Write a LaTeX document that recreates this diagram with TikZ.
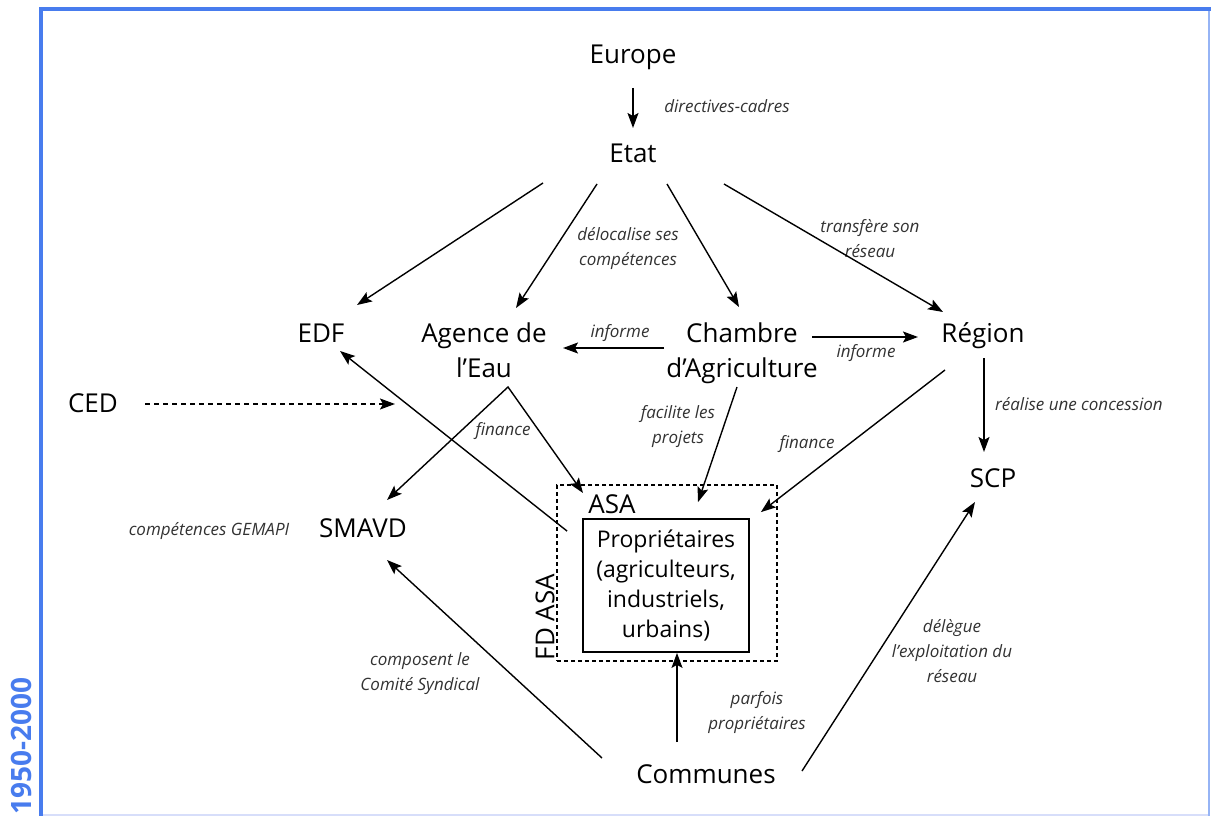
\documentclass[tikz,border=0pt]{standalone}
\usepackage{fontspec}
\setmainfont{Open Sans}
\usetikzlibrary{arrows.meta,calc}
\definecolor{frameblue}{RGB}{72,124,238}
\definecolor{framelight}{RGB}{150,180,245}
\definecolor{framepale}{RGB}{215,222,250}
\definecolor{labelgray}{RGB}{50,50,50}
\begin{document}
\begin{tikzpicture}[x=1pt,y=-1pt,
  main/.style={font=\fontsize{26}{35}\selectfont, inner sep=0pt, align=center},
  lab/.style={font=\fontsize{17}{25}\selectfont\itshape, text=labelgray, inner sep=0pt, align=center},
  arr/.style={-{Stealth[length=15pt,width=11pt,inset=3pt]}, line width=1.4pt},
  dasharr/.style={-{Stealth[length=15pt,width=11pt,inset=3pt]}, line width=1.3pt, dash pattern=on 5pt off 4pt},
  dashedbox/.style={draw, line width=1.8pt, dash pattern=on 4pt off 3pt, inner sep=0pt},
  propbox/.style={draw, line width=1.8pt, inner sep=0pt, align=center, font=\fontsize{23}{30}\selectfont}
]
\useasboundingbox (0,0) rectangle (1211,816);
% frame
\draw[framepale, line width=2pt] (41,815) -- (1209,815);
\draw[framelight, line width=2pt] (1209,9) -- (1209,816);
\draw[frameblue, line width=4pt] (41,818) -- (41,9) -- (1211,9);
\node[rotate=90, inner sep=0pt, text=frameblue, font=\fontsize{28}{30}\selectfont\bfseries] (period) at (21,746) {1950-2000};

% main nodes (base anchor = baseline of last line)
\node[main, anchor=base] (europe) at (633,64) {Europe};
\node[main, anchor=base] (etat) at (633,162) {Etat};
\node[main, anchor=base] (edf) at (321,342) {EDF};
\node[main, anchor=base] (agence) at (484,377) {Agence de\\l’Eau};
\node[main, anchor=base] (chambre) at (742,377) {Chambre\\d’Agriculture};
\node[main, anchor=base] (region) at (983,342) {Région};
\node[main, anchor=base] (ced) at (93,412) {CED};
\node[main, anchor=base] (scp) at (993,487) {SCP};
\node[main, anchor=base] (smavd) at (363,537) {SMAVD};
\node[main, anchor=base] (communes) at (706,783) {Communes};
\node[dashedbox, minimum width=220pt, minimum height=176pt] (fdasa) at (667,573) {};
\node[propbox, minimum width=166pt, minimum height=133pt] (prop) at (666,585.5) {Propriétaires\\(agriculteurs,\\industriels,\\urbains)};
\node[main, anchor=base] (asa) at (612,513) {ASA};
\node[main, rotate=90] (fdlab) at (545,617) {FD ASA};

% labels
\node[lab, anchor=base] (l1) at (727,112) {directives-cadres};
\node[lab, anchor=base] (l2) at (628,265) {délocalise ses\\compétences};
\node[lab, anchor=base] (l3) at (870,257) {transfère son\\réseau};
\node[lab, anchor=base] (l4) at (620,337) {informe};
\node[lab, anchor=base] (l5) at (866,357) {informe};
\node[lab, anchor=base] (l6) at (1079,410) {réalise une concession};
\node[lab, anchor=base] (l7) at (503,435) {finance};
\node[lab, anchor=base] (l8) at (678,443) {facilite les\\projets};
\node[lab, anchor=base] (l9) at (807,448) {finance};
\node[lab, anchor=base] (l10) at (209,535) {compétences GEMAPI};
\node[lab, anchor=base] (l11) at (420,690) {composent le\\Comité Syndical};
\node[lab, anchor=base] (l12) at (757,729) {parfois\\propriétaires};
\node[lab, anchor=base] (l13) at (952,682) {délègue\\l’exploitation du\\réseau};

% connectors
\draw[arr] ($(europe.base)+(0,24)$) -- ($(etat.base)+(0,-34)$);
\draw[arr] ($(etat.base)+(-90,21)$) -- ($(edf.base)+(36,-37)$);
\draw[arr] ($(etat.base)+(-36,22)$) -- ($(agence.base)+(32,-69)$);
\draw[arr] ($(etat.base)+(34,22)$) -- ($(chambre.base)+(-3,-70)$);
\draw[arr] ($(etat.base)+(91,22)$) -- ($(region.base)+(-40,-30)$);
\draw[arr] ($(chambre.base)+(-78,-29)$) -- ($(agence.base)+(79,-29)$);
\draw[arr] ($(chambre.base)+(70,-40)$) -- ($(region.base)+(-65,-5)$);
\draw[arr] ($(region.base)+(1,16)$) -- ($(scp.base)+(-9,-35)$);
\coordinate (fin) at ($(agence.base)+(24,10)$);
\draw[{Stealth[length=15pt,width=11pt,inset=3pt]}-{Stealth[length=15pt,width=11pt,inset=3pt]}, line width=1.4pt, line join=miter]
  ($(smavd.base)+(24,-37)$) -- (fin) -- ($(asa.base)+(-29,-20)$);
\draw[arr] ($(chambre.base)+(-5,10)$) -- ($(fdasa.north)+(31,18)$);
\draw[arr] ($(region.base)+(-38,28)$) -- ($(fdasa.north east)+(-17,28)$);
\draw[arr] ($(prop.north west)+(-15,13)$) -- ($(edf.base)+(19,9)$);
\coordinate (cedend) at (395,404);
\draw[dasharr] ($(ced.base)+(52,-8)$) -- (cedend);
\draw[arr] ($(communes.base)+(-104,-25)$) -- ($(smavd.base)+(24,23)$);
\draw[arr] ($(communes.base)+(-29,-41)$) -- ($(prop.south)+(11,0)$);
\draw[arr] ($(communes.base)+(96,-12)$) -- ($(scp.base)+(-18,15)$);
\end{tikzpicture}
\end{document}
